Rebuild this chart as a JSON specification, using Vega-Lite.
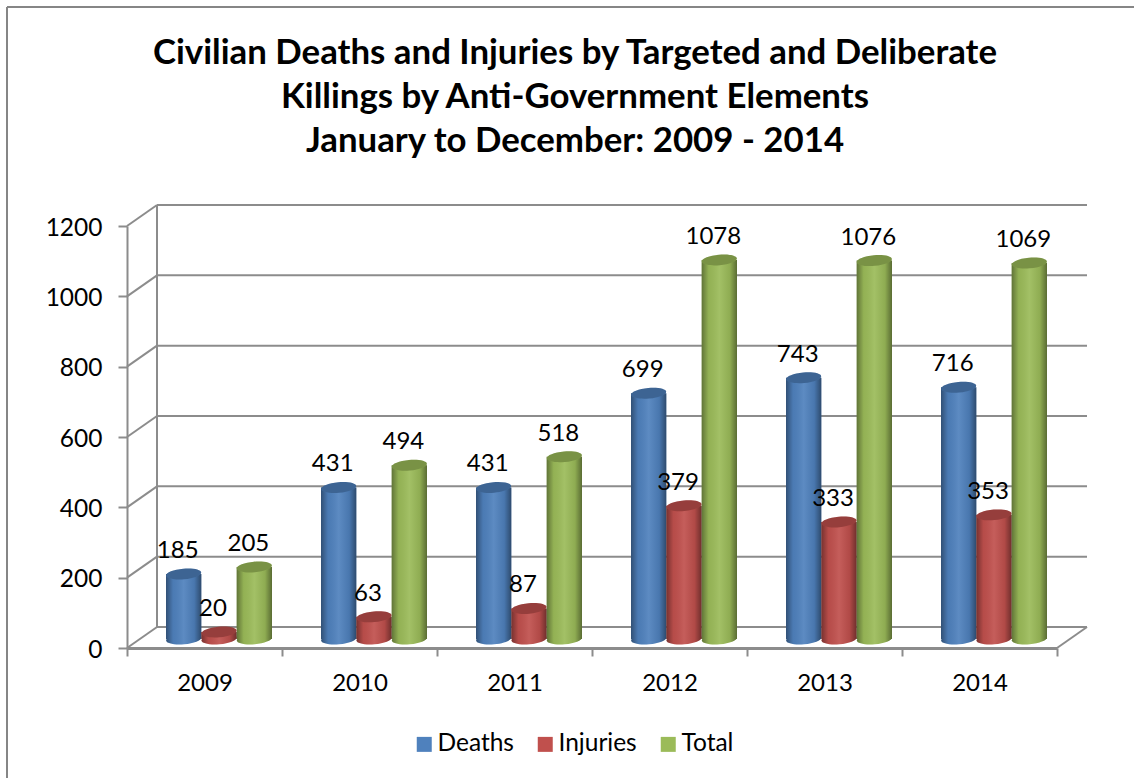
{
"$schema":"https://vega.github.io/schema/vega-lite/v6.json",
"width":960,"height":422,
"autosize":{"type":"none"},
"padding":{"left":127,"top":226,"right":47,"bottom":130},
"background":"white",
"config":{"view":{"stroke":null},"font":"Lato"},
"title":{"text":["Civilian Deaths and Injuries by Targeted and Deliberate","Killings by Anti-Government Elements","January to December: 2009 - 2014"],"fontSize":34.8,"fontWeight":"bold","font":"Lato","color":"#000000","lineHeight":44,"anchor":"middle","frame":"group","dx":-32,"offset":-154},
"layer":[
{"data":{"values":[{"level":0},{"level":200},{"level":400},{"level":600},{"level":800},{"level":1000},{"level":1200}]},
 "layer":[
  {"mark":{"type":"rule","stroke":"#8c8c8c","strokeWidth":2,"yOffset":-21},"encoding":{"y":{"field":"level","type":"quantitative","scale":{"domain":[0,1200]},"axis":{"title":null,"format":"d","values":[0,200,400,600,800,1000,1200],"labelFontSize":24.5,"labelColor":"#000000","labelFont":"Lato","labelPadding":16,"labelOffset":2,"tickSize":9,"tickWidth":2,"tickColor":"#8c8c8c","domainColor":"#8c8c8c","domainWidth":2,"grid":false}},"x":{"value":30},"x2":{"value":960}}},
  {"mark":{"type":"rule","stroke":"#8c8c8c","strokeWidth":2,"y2Offset":-21},"encoding":{"y":{"field":"level","type":"quantitative","title":null},"y2":{"field":"level"},"x":{"value":0},"x2":{"value":30}}}
 ]},
{"data":{"values":[{"year":"2009","series":"Deaths","value":185},{"year":"2009","series":"Injuries","value":20},{"year":"2009","series":"Total","value":205},{"year":"2010","series":"Deaths","value":431},{"year":"2010","series":"Injuries","value":63},{"year":"2010","series":"Total","value":494},{"year":"2011","series":"Deaths","value":431},{"year":"2011","series":"Injuries","value":87},{"year":"2011","series":"Total","value":518},{"year":"2012","series":"Deaths","value":699},{"year":"2012","series":"Injuries","value":379},{"year":"2012","series":"Total","value":1078},{"year":"2013","series":"Deaths","value":743},{"year":"2013","series":"Injuries","value":333},{"year":"2013","series":"Total","value":1076},{"year":"2014","series":"Deaths","value":716},{"year":"2014","series":"Injuries","value":353},{"year":"2014","series":"Total","value":1069}]},
 "encoding":{
  "x":{"field":"year","type":"nominal","scale":{"range":[0,930],"paddingInner":0,"paddingOuter":0},"axis":{"title":null,"labelAngle":0,"labelFontSize":24,"labelColor":"#000000","labelFont":"Lato","labelPadding":15,"tickSize":8,"tickWidth":2,"tickColor":"#8c8c8c","domainColor":"#8c8c8c","domainWidth":3,"tickBand":"extent","grid":false}},
  "xOffset":{"field":"series","type":"nominal","sort":["Deaths","Injuries","Total"],"scale":{"domain":["Deaths","Injuries","Total"],"range":[39,145],"paddingInner":0,"paddingOuter":0}},
  "y":{"field":"value","type":"quantitative","stack":null,"title":null,"scale":{"domain":[0,1200]}},
  "color":{"field":"series","type":"nominal","sort":["Deaths","Injuries","Total"],"scale":{"domain":["Deaths","Injuries","Total"],"range":["#4f81bd","#c0504d","#9bbb59"]},"legend":{"title":null,"orient":"none","legendX":285,"legendY":506,"direction":"horizontal","symbolType":"square","symbolSize":225,"symbolOpacity":1,"labelFontSize":24.5,"labelColor":"#000000","labelFont":"Lato","columnPadding":19,"labelOffset":1}}
 },
 "layer":[
  {"mark":{"type":"point","filled":true,"opacity":1,"size":1240,"shape":"M-1,0 A1,0.3 0 1,1 1,0 A1,0.3 0 1,1 -1,0 Z","angle":-5,"yOffset":-9},"encoding":{"y":{"datum":0,"type":"quantitative"}}},
  {"mark":{"type":"point","filled":true,"opacity":1,"size":1240,"shape":"M-1,0 A1,0.3 0 1,1 1,0 A1,0.3 0 1,1 -1,0 Z","angle":-5,"yOffset":-9,"fill":{"gradient":"linear","x1":0,"x2":1,"y1":0,"y2":0,"stops":[{"offset":0,"color":"rgba(0,0,0,0.38)"},{"offset":0.2,"color":"rgba(0,0,0,0.05)"},{"offset":0.5,"color":"rgba(255,255,255,0.08)"},{"offset":0.8,"color":"rgba(0,0,0,0.08)"},{"offset":1,"color":"rgba(0,0,0,0.42)"}]}},"encoding":{"y":{"datum":0,"type":"quantitative"},"color":{"value":null}}},
  {"mark":{"type":"bar","yOffset":-9,"y2Offset":-9,"opacity":1},"encoding":{"y2":{"datum":0}}},
  {"mark":{"type":"bar","yOffset":-9,"y2Offset":-9,"fill":{"gradient":"linear","x1":0,"x2":1,"y1":0,"y2":0,"stops":[{"offset":0,"color":"rgba(0,0,0,0.38)"},{"offset":0.2,"color":"rgba(0,0,0,0.05)"},{"offset":0.5,"color":"rgba(255,255,255,0.08)"},{"offset":0.8,"color":"rgba(0,0,0,0.08)"},{"offset":1,"color":"rgba(0,0,0,0.42)"}]}},"encoding":{"y2":{"datum":0},"color":{"value":null}}},
  {"mark":{"type":"point","filled":true,"opacity":1,"size":1240,"shape":"M-1,0 A1,0.3 0 1,1 1,0 A1,0.3 0 1,1 -1,0 Z","angle":-5,"yOffset":-9}},
  {"mark":{"type":"point","filled":true,"opacity":0.22,"size":1240,"shape":"M-1,0 A1,0.3 0 1,1 1,0 A1,0.3 0 1,1 -1,0 Z","angle":-5,"yOffset":-9,"fill":"#000000"},"encoding":{"color":{"value":null}}},
  {"mark":{"type":"text","fontSize":24,"font":"Lato","fill":"#000000","dx":-6,"yOffset":-32,"baseline":"middle"},"encoding":{"text":{"field":"value","type":"quantitative"},"color":{"value":null}}}
 ]},
{"data":{"values":[{"frame":"left"}]},
 "layer":[
  {"mark":{"type":"rule","stroke":"#868686","strokeWidth":2},"encoding":{"x":{"value":-120},"y":{"value":-219},"y2":{"value":552}}},
  {"mark":{"type":"rule","stroke":"#868686","strokeWidth":2},"encoding":{"x":{"value":-120},"x2":{"value":1007},"y":{"value":-219}}},
  {"mark":{"type":"rule","stroke":"#8c8c8c","strokeWidth":2},"encoding":{"x":{"value":30},"y":{"value":401},"y2":{"value":-21}}},
  {"mark":{"type":"rule","stroke":"#8c8c8c","strokeWidth":2},"encoding":{"x":{"value":930},"x2":{"value":960},"y":{"value":422},"y2":{"value":401}}}
 ]}
]
}
